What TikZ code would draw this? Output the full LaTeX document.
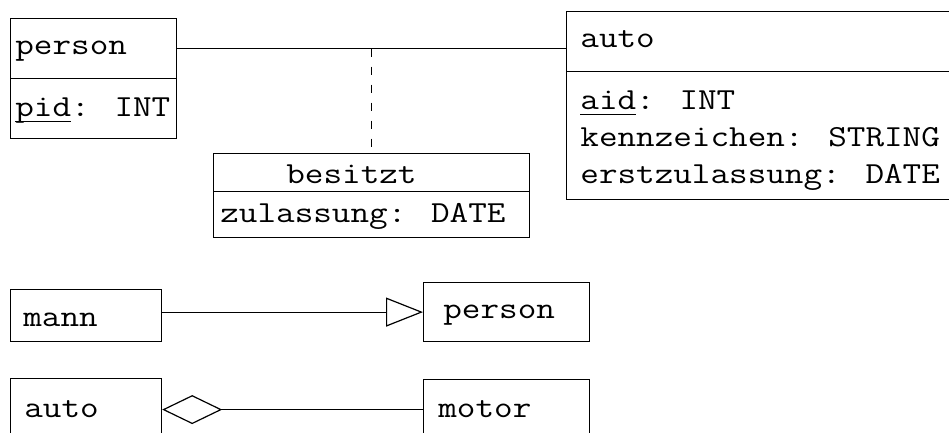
\documentclass[tikz,border=0pt]{standalone}
\usepackage{fontspec}
\newfontfamily\courfont{Latin Modern Mono}[FakeStretch=1.18]
\newcommand\keyul[1]{\setbox0\hbox{#1}\rlap{\rule[-2.6pt]{\wd0}{0.6pt}}#1}
\usetikzlibrary{arrows.meta}
\begin{document}
\begin{tikzpicture}[x=0.5pt,y=-0.5pt,
  box/.style={draw, line width=0.6pt, anchor=north west, inner sep=0pt, rectangle},
  txt/.style={anchor=base west, inner sep=0pt, font=\courfont\fontsize{15.3}{18}\selectfont},
  conn/.style={line width=0.6pt},
  dashline/.style={line width=0.6pt, dash pattern=on 4pt off 5pt}]
\useasboundingbox (0,0) rectangle (949,433);
% person / auto / besitzt
\node[box, minimum width=83pt, minimum height=30pt] (personH) at (10,18) {};
\node[box, minimum width=83pt, minimum height=30pt] (personA) at (10,78) {};
\node[box, minimum width=197pt, minimum height=30pt] (autoH) at (566,11) {};
\node[box, minimum width=197pt, minimum height=64pt] (autoA) at (566,71) {};
\node[box, minimum width=158pt, minimum height=19pt] (besH) at (213,153) {};
\node[box, minimum width=158pt, minimum height=23pt] (besA) at (213,191) {};
\node[txt] (tperson) at (15,55) {person};
\node[txt] (tpid) at (15,117) {\keyul{pid}: INT};
\node[txt] (tauto) at (580,48) {auto};
\node[txt] (taid) at (580,110) {\keyul{aid}: INT};
\node[txt] (tkz) at (580,147) {kennzeichen: STRING};
\node[txt] (tez) at (580,184) {erstzulassung: DATE};
\node[txt] (tbes) at (286,184) {besitzt};
\node[txt] (tzul) at (220,222) {zulassung: DATE};
\draw[conn] (personH.east) -- (personH.east -| autoH.west);
\draw[dashline] (besH.north |- personH.east) -- (besH.north);
% mann -> person
\node[box, minimum width=75.5pt, minimum height=26pt] (mann) at (10,289) {};
\node[box, minimum width=83pt, minimum height=29.5pt] (person2) at (423,282) {};
\node[txt] (tmann) at (23,327) {mann};
\node[txt] (tperson2) at (443,319) {person};
\draw[conn, -{Triangle[open, length=18.5pt, width=14.5pt]}] (mann.east |- person2.west) -- (person2.west);
% auto <>- motor
\node[box, minimum width=75.5pt, minimum height=31pt] (auto2) at (10,378) {};
\node[box, minimum width=83pt, minimum height=30pt] (motor) at (423,379) {};
\node[txt] (tauto2) at (24,417) {auto};
\node[txt] (tmotor) at (438,417) {motor};
\draw[conn, -{Diamond[open, length=30pt, width=14.5pt]}] (motor.west) -- (motor.west -| auto2.east);
\end{tikzpicture}
\end{document}
